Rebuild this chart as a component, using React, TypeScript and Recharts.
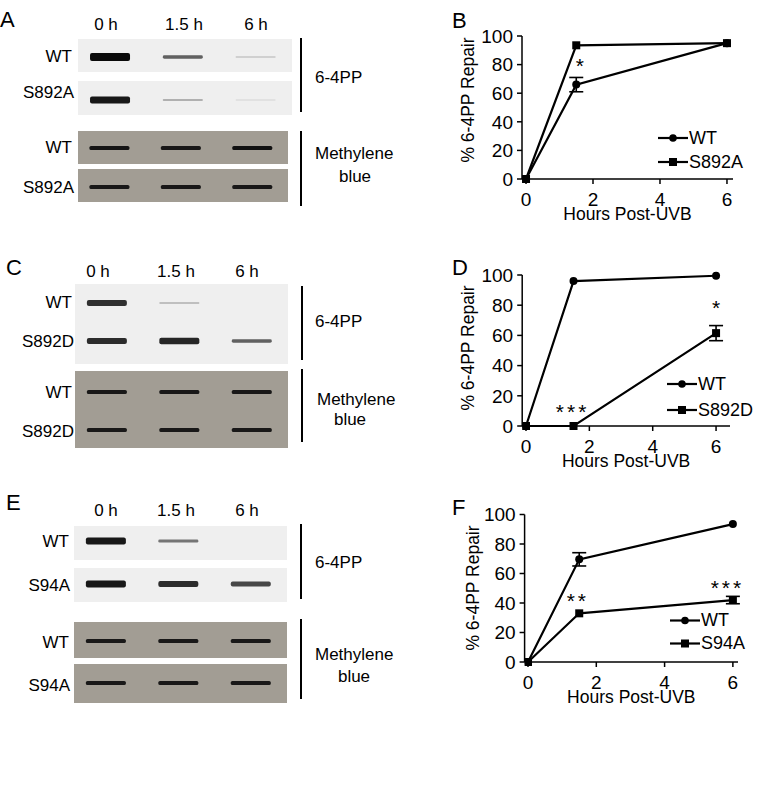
import React from 'react';
import {
  LineChart, Line, XAxis, YAxis, ErrorBar, ReferenceDot, Legend,
  ScatterChart, Scatter,
} from 'recharts';

const FONT = '"Liberation Sans", Arial, Helvetica, sans-serif';

// ---------- blot data (band intensities, 0..1) ----------
const lanes = ['0 h', '1.5 h', '6 h'];
const laneIndex = [0, 1, 2];

const aGenotypes = ['WT', 'S892A'];
const a64ppWT = [1.0, 0.55, 0.08];
const a64ppMut = [0.92, 0.2, 0.03];
const aMethWT = [0.92, 0.9, 0.95];
const aMethMut = [0.9, 0.9, 0.9];

const cGenotypes = ['WT', 'S892D'];
const c64ppWT = [0.8, 0.14, 0];
const c64ppMut = [0.82, 0.85, 0.55];
const cMethWT = [0.9, 0.9, 0.9];
const cMethMut = [0.9, 0.9, 0.9];

const eGenotypes = ['WT', 'S94A'];
const e64ppWT = [0.92, 0.45, 0];
const e64ppMut = [0.92, 0.82, 0.68];
const eMethWT = [0.9, 0.9, 0.9];
const eMethMut = [0.9, 0.9, 0.9];

// ---------- repair curves ----------
const hours = [0, 1.5, 6];
const xTicks = [0, 2, 4, 6];
const yTicks = [0, 20, 40, 60, 80, 100];

const bWT = [0, 66, 95];
const bWTErr = [0, 5, 0];
const bMut = [0, 93.5, 95];
const bMutErr = [0, 0, 0];

const dWT = [0, 96, 99.5];
const dWTErr = [0, 0, 0];
const dMut = [0, 0, 61.5];
const dMutErr = [0, 0, 5];

const fWT = [0, 69.6, 93.5];
const fWTErr = [0, 4.5, 0];
const fMut = [0, 33, 42];
const fMutErr = [0, 0, 2.5];

const bStars = [{ x: 1.61, y: 79, t: '*' }];
const dStars = [{ x: 1.47, y: 9.75, t: '***' }, { x: 6, y: 78.4, t: '*' }];
const fStars = [{ x: 1.46, y: 41.8, t: '**' }, { x: 5.84, y: 50.4, t: '***' }];

const LANE_DOMAIN: [number, number] = [-0.44, 2.5];

function Band(props: any) {
  const { cx, cy, payload, kind } = props;
  const v = payload ? payload.v : 0;
  if (!v || v <= 0 || cx == null) return <g />;
  const h = kind === 'meth' ? 4 : 1.8 + 6.4 * v * v;
  const op = kind === 'meth' ? v : Math.min(1, Math.pow(v, 0.8));
  return (
    <rect x={cx - 20} y={cy - h / 2} width={40} height={h} rx={Math.min(2, h / 2.5)}
      fill="#0a0a0a" fillOpacity={op} />
  );
}

function BandRow({ left, width, cy, values, kind }: any) {
  const data = laneIndex.map((l, i) => ({ lane: l, row: 0, v: values[i] }));
  return (
    <div style={{ position: 'absolute', left, top: cy - 10, width, height: 20 }}>
      <ScatterChart width={width} height={20} margin={{ top: 0, right: 0, bottom: 0, left: 0 }}>
        <XAxis type="number" dataKey="lane" domain={LANE_DOMAIN} hide />
        <YAxis type="number" dataKey="row" domain={[-1, 1]} hide />
        <Scatter data={data} isAnimationActive={false}
          shape={(p: any) => <Band {...p} kind={kind} />} />
      </ScatterChart>
    </div>
  );
}

const circleDot = (p: any) => (
  <circle key={`c${p.index}`} cx={p.cx} cy={p.cy} r={4} fill="#000" />
);
const squareDot = (p: any) => (
  <rect key={`s${p.index}`} x={p.cx - 4} y={p.cy - 4} width={8} height={8} fill="#000" />
);

function LegendBox({ names, rowH }: any) {
  return (
    <div style={{ fontFamily: FONT, fontSize: 18, color: '#000' }}>
      {names.map((n: string, i: number) => (
        <div key={n} style={{ display: 'flex', alignItems: 'center', height: rowH }}>
          <svg width={30} height={rowH} style={{ display: 'block' }}>
            <line x1={0} x2={30} y1={rowH / 2} y2={rowH / 2} stroke="#000" strokeWidth={2.2} />
            {i === 0
              ? <circle cx={15} cy={rowH / 2} r={3.8} fill="#000" />
              : <rect x={11} y={rowH / 2 - 4} width={8} height={8} fill="#000" />}
          </svg>
          <span style={{ marginLeft: 1, lineHeight: 1, whiteSpace: 'nowrap' }}>{n}</span>
        </div>
      ))}
    </div>
  );
}

function RepairChart({ top, height, plot, xDomain, wt, wtErr, mut, mutErr, names, stars, legend }: any) {
  const data = hours.map((h, i) => ({ x: h, wt: wt[i], wtErr: wtErr[i], mut: mut[i], mutErr: mutErr[i] }));
  const L = 440;
  const W = 321;
  const YW = 40;
  const XH = 45;
  const margin = {
    top: plot.top - top,
    bottom: top + height - plot.bottom - XH,
    left: plot.left - L - YW,
    right: L + W - plot.right,
  };
  const tickStyle = { fontSize: 19, fill: '#000', fontFamily: FONT };
  return (
    <div style={{ position: 'absolute', left: L, top, width: W, height }}>
      <LineChart width={W} height={height} data={data} margin={margin}>
        <XAxis type="number" dataKey="x" domain={xDomain} ticks={xTicks} allowDataOverflow
          height={XH} tickSize={5} tickMargin={9} tick={tickStyle}
          axisLine={{ stroke: '#000', strokeWidth: 1.5 }} tickLine={{ stroke: '#000', strokeWidth: 1.5 }}
          label={{ value: 'Hours Post-UVB', position: 'insideTop', offset: 29, fontSize: 17.5, fill: '#000', fontFamily: FONT }} />
        <YAxis type="number" domain={[0, 100]} ticks={yTicks} interval={0} width={YW}
          tickSize={5} tickMargin={4} tick={tickStyle}
          axisLine={{ stroke: '#000', strokeWidth: 1.5 }} tickLine={{ stroke: '#000', strokeWidth: 1.5 }} />
        <Line dataKey="wt" stroke="#000" strokeWidth={2.2} dot={circleDot} activeDot={false}
          isAnimationActive={false} name={names[0]}>
          <ErrorBar dataKey="wtErr" width={7} strokeWidth={1.6} stroke="#000" direction="y" isAnimationActive={false} />
        </Line>
        <Line dataKey="mut" stroke="#000" strokeWidth={2.2} dot={squareDot} activeDot={false}
          isAnimationActive={false} name={names[1]}>
          <ErrorBar dataKey="mutErr" width={7} strokeWidth={1.6} stroke="#000" direction="y" isAnimationActive={false} />
        </Line>
        {stars.map((s: any, i: number) => (
          <ReferenceDot key={i} x={s.x} y={s.y} r={1} fill="none" stroke="none" ifOverflow="visible"
            label={{ value: s.t, position: 'center', fontSize: 21, fill: '#000', fontFamily: FONT, letterSpacing: s.t.length > 1 ? 3 : 0 }} />
        ))}
        <Legend layout="horizontal" verticalAlign="middle" align="center"
          wrapperStyle={{ left: legend.left, top: legend.top, width: 'auto', height: 'auto' }}
          content={() => <LegendBox names={names} rowH={legend.rowH} />} />
      </LineChart>
    </div>
  );
}

function Txt({ x, y, size = 17, anchor = 'start', children }: any) {
  return (
    <text x={x} y={y} fontSize={size} textAnchor={anchor} fontFamily={FONT} fill="#000">{children}</text>
  );
}

function YLab({ cx, cy }: any) {
  return (
    <text transform={`translate(${cx},${cy}) rotate(-90)`} y={6.2} fontSize={17.5} textAnchor="middle"
      fontFamily={FONT} fill="#000">% 6-4PP Repair</text>
  );
}

const LIGHT = '#efefef';
const METH = '#a29d94';

export default function App() {
  return (
    <div style={{ position: 'absolute', left: 0, top: 0, width: 761, height: 794, background: '#fff', overflow: 'hidden', fontFamily: FONT }}>
      <svg width={761} height={794} style={{ position: 'absolute', left: 0, top: 0 }}>
        {/* Panel A */}
        <Txt x={0} y={27} size={22}>A</Txt>
        <Txt x={106} y={30} anchor="middle">{lanes[0]}</Txt>
        <Txt x={184} y={30} anchor="middle">{lanes[1]}</Txt>
        <Txt x={256} y={30} anchor="middle">{lanes[2]}</Txt>
        <rect x={78} y={39} width={214} height={33} fill={LIGHT} />
        <rect x={78} y={81} width={214} height={34} fill={LIGHT} />
        <rect x={78} y={131} width={210} height={33} fill={METH} />
        <rect x={78} y={169} width={210} height={33} fill={METH} />
        <Txt x={72} y={62} anchor="end">{aGenotypes[0]}</Txt>
        <Txt x={74} y={98} anchor="end">{aGenotypes[1]}</Txt>
        <Txt x={72} y={153} anchor="end">{aGenotypes[0]}</Txt>
        <Txt x={74} y={193} anchor="end">{aGenotypes[1]}</Txt>
        <line x1={301} x2={301} y1={38} y2={112} stroke="#000" strokeWidth={2} />
        <line x1={301} x2={301} y1={131} y2={206} stroke="#000" strokeWidth={2} />
        <Txt x={315} y={83}>6-4PP</Txt>
        <Txt x={315} y={159}>Methylene</Txt>
        <Txt x={355} y={182} anchor="middle">blue</Txt>

        {/* Panel C */}
        <Txt x={6} y={275} size={22}>C</Txt>
        <Txt x={98} y={277} anchor="middle">{lanes[0]}</Txt>
        <Txt x={176} y={277} anchor="middle">{lanes[1]}</Txt>
        <Txt x={247} y={277} anchor="middle">{lanes[2]}</Txt>
        <rect x={75} y={284} width={213} height={80} fill={LIGHT} />
        <rect x={75} y={371} width={213} height={77} fill={METH} />
        <Txt x={72} y={308} anchor="end">{cGenotypes[0]}</Txt>
        <Txt x={74} y={347} anchor="end">{cGenotypes[1]}</Txt>
        <Txt x={72} y={398} anchor="end">{cGenotypes[0]}</Txt>
        <Txt x={74} y={437} anchor="end">{cGenotypes[1]}</Txt>
        <line x1={302} x2={302} y1={286} y2={360} stroke="#000" strokeWidth={2} />
        <line x1={302} x2={302} y1={369} y2={442} stroke="#000" strokeWidth={2} />
        <Txt x={315} y={327}>6-4PP</Txt>
        <Txt x={317} y={405}>Methylene</Txt>
        <Txt x={350} y={425} anchor="middle">blue</Txt>

        {/* Panel E */}
        <Txt x={6} y={510} size={22}>E</Txt>
        <Txt x={106} y={516} anchor="middle">{lanes[0]}</Txt>
        <Txt x={176} y={516} anchor="middle">{lanes[1]}</Txt>
        <Txt x={247} y={516} anchor="middle">{lanes[2]}</Txt>
        <rect x={74} y={526} width={213} height={34} fill={LIGHT} />
        <rect x={74} y={568} width={213} height={34} fill={LIGHT} />
        <rect x={74} y={622} width={213} height={36} fill={METH} />
        <rect x={74} y={664} width={213} height={39} fill={METH} />
        <Txt x={69} y={547} anchor="end">{eGenotypes[0]}</Txt>
        <Txt x={70} y={591} anchor="end">{eGenotypes[1]}</Txt>
        <Txt x={69} y={648} anchor="end">{eGenotypes[0]}</Txt>
        <Txt x={70} y={691} anchor="end">{eGenotypes[1]}</Txt>
        <line x1={301} x2={301} y1={524} y2={599} stroke="#000" strokeWidth={2} />
        <line x1={301} x2={301} y1={619} y2={699} stroke="#000" strokeWidth={2} />
        <Txt x={315} y={568}>6-4PP</Txt>
        <Txt x={315} y={660}>Methylene</Txt>
        <Txt x={354} y={682} anchor="middle">blue</Txt>

        {/* chart panel letters and y labels */}
        <Txt x={452} y={28} size={22}>B</Txt>
        <Txt x={452} y={275} size={22}>D</Txt>
        <Txt x={452} y={515} size={22}>F</Txt>
        <YLab cx={468} cy={100} />
        <YLab cx={468} cy={348} />
        <YLab cx={473} cy={588} />
      </svg>

      {/* blot bands */}
      <BandRow left={78} width={214} cy={57} values={a64ppWT} kind="64" />
      <BandRow left={78} width={214} cy={100} values={a64ppMut} kind="64" />
      <BandRow left={78} width={210} cy={148} values={aMethWT} kind="meth" />
      <BandRow left={78} width={210} cy={187} values={aMethMut} kind="meth" />

      <BandRow left={75} width={213} cy={303} values={c64ppWT} kind="64" />
      <BandRow left={75} width={213} cy={341} values={c64ppMut} kind="64" />
      <BandRow left={75} width={213} cy={392} values={cMethWT} kind="meth" />
      <BandRow left={75} width={213} cy={430} values={cMethMut} kind="meth" />

      <BandRow left={74} width={213} cy={541} values={e64ppWT} kind="64" />
      <BandRow left={74} width={213} cy={584} values={e64ppMut} kind="64" />
      <BandRow left={74} width={213} cy={641} values={eMethWT} kind="meth" />
      <BandRow left={74} width={213} cy={683} values={eMethMut} kind="meth" />

      {/* repair charts */}
      <RepairChart top={0} height={230} plot={{ top: 36, bottom: 179, left: 522, right: 733 }}
        xDomain={[-0.12, 6.18]} wt={bWT} wtErr={bWTErr} mut={bMut} mutErr={bMutErr}
        names={aGenotypes} stars={bStars} legend={{ left: 218, top: 126, rowH: 24 }} />
      <RepairChart top={250} height={230} plot={{ top: 275, bottom: 426, left: 522.2, right: 730 }}
        xDomain={[-0.12, 6.44]} wt={dWT} wtErr={dWTErr} mut={dMut} mutErr={dMutErr}
        names={cGenotypes} stars={dStars} legend={{ left: 227, top: 121, rowH: 26 }} />
      <RepairChart top={495} height={230} plot={{ top: 514.5, bottom: 662, left: 524.6, right: 738 }}
        xDomain={[-0.1, 6.15]} wt={fWT} wtErr={fWTErr} mut={fMut} mutErr={fMutErr}
        names={eGenotypes} stars={fStars} legend={{ left: 230, top: 113.5, rowH: 23 }} />
    </div>
  );
}
